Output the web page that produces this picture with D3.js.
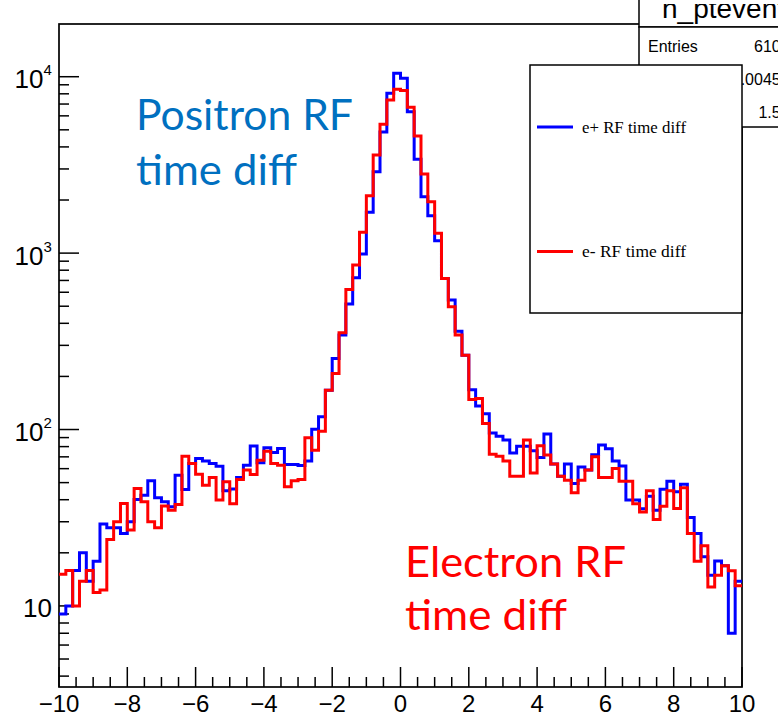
<!DOCTYPE html>
<html><head><meta charset="utf-8">
<script src="https://cdn.jsdelivr.net/npm/d3@7"></script>
<style>body{margin:0;background:#fff}svg{display:block}</style>
</head><body>
<svg id="c" width="778" height="720"></svg>
<script>
// ---- data ----
const xMin = -10, xMax = 10, nBins = 100;
const positronCounts = [
  9.0, 10.0, 15.9, 20.0, 13.8, 17.9, 29.1, 27.7, 27.7, 25.7,
  30.0, 40.1, 42.4, 51.2, 41.0, 38.9, 36.5, 55.1, 45.7, 64.2,
  68.5, 66.2, 64.2, 62.0, 45.0, 46.0, 53.5, 62.8, 80.7, 64.7,
  78.7, 74.1, 78.1, 63.3, 63.3, 62.6, 66.2, 100.5, 118, 167,
  253, 343, 514, 725, 988, 1704, 2895, 4860, 8050, 10470,
  9800, 6340, 3405, 2088, 1629, 1175, 719, 542, 361, 264,
  168, 136, 123, 95.7, 91.6, 87.1, 73.7, 80.4, 80.4, 75.7,
  69.3, 94.2, 63.7, 54.4, 63.7, 49.4, 61.4, 58.9, 72.0, 81.7,
  77.7, 66.4, 62.2, 39.8, 39.8, 35.6, 41.9, 34.9, 45.9, 50.9,
  44.4, 48.9, 31.7, 25.7, 19.0, 14.9, 18.0, 16.9, 7.0, 13.8
];
const electronCounts = [
  15.1, 15.9, 10.0, 13.8, 15.9, 11.9, 12.3, 23.8, 30.0, 38.1,
  26.9, 46.3, 38.9, 30.0, 27.7, 36.8, 34.9, 37.6, 70.6, 64.2,
  55.8, 48.3, 53.4, 39.8, 50.5, 38.0, 52.1, 58.9, 55.6, 67.0,
  75.4, 64.2, 62.8, 47.3, 51.2, 52.1, 89.8, 76.3, 97.9, 167,
  208, 354, 622, 855, 1312, 2117, 3600, 5380, 7385, 8490,
  8340, 6710, 4615, 2806, 1955, 1294, 719, 497, 343, 264,
  148, 150, 108, 72.4, 70.6, 66.2, 54.4, 54.4, 87.1, 56.7,
  80.9, 71.6, 63.7, 54.4, 51.6, 43.8, 51.6, 58.9, 70.0, 53.5,
  53.5, 60.1, 50.9, 50.9, 38.0, 34.1, 44.9, 30.9, 36.7, 44.9,
  35.7, 46.7, 25.7, 17.9, 21.9, 12.8, 14.9, 16.9, 15.8, 13.0
];
const xMajorTicks = [-10, -8, -6, -4, -2, 0, 2, 4, 6, 8, 10];
const xTickLabels = ["\u221210", "\u22128", "\u22126", "\u22124", "\u22122", "0", "2", "4", "6", "8", "10"];
const yMajorTicks = [10, 100, 1000, 10000];
const yTickExponents = ["", "2", "3", "4"];
const legendLabels = ["e+ RF time diff", "e- RF time diff"];
const statsLabels = ["Entries", "Mean", "Std Dev"];
const statsValues = ["61046", "-0.004532", "1.523"];
const histTitle = "h_ptevent";

// ---- layout ----
const svg = d3.select("#c");
const L = 59, R = 742, T = 24, B = 687;
const x = d3.scaleLinear().domain([xMin, xMax]).range([L, R]);
const y = d3.scaleLog().domain([3.47, 19900]).range([B, T]);
const binW = (xMax - xMin) / nBins;

// frame
svg.append("rect").attr("x", L).attr("y", T).attr("width", R - L).attr("height", B - T)
  .attr("fill", "none").attr("stroke", "#000").attr("stroke-width", 1.7);

// x ticks
const xMinor = d3.range(xMin, xMax + 0.001, 0.5).filter(v => Math.abs(v % 2) > 1e-6);
svg.append("g").selectAll("line").data(xMinor).join("line")
  .attr("x1", d => x(d)).attr("x2", d => x(d)).attr("y1", B).attr("y2", B - 10)
  .attr("stroke", "#000").attr("stroke-width", 1.5);
svg.append("g").selectAll("line").data(xMajorTicks).join("line")
  .attr("x1", d => x(d)).attr("x2", d => x(d)).attr("y1", B).attr("y2", B - 20)
  .attr("stroke", "#000").attr("stroke-width", 1.5);
svg.append("g").selectAll("text").data(xMajorTicks).join("text")
  .attr("x", d => x(d)).attr("y", 712).attr("text-anchor", "middle")
  .attr("font-family", "Liberation Sans, Arial, sans-serif").attr("font-size", 24)
  .text((d, i) => xTickLabels[i]);

// y ticks
const yMinor = [];
[1, 10, 100, 1000, 10000].forEach(p => { for (let k = 2; k <= 9; k++) { const v = k * p; if (v >= y.domain()[0] && v <= y.domain()[1]) yMinor.push(v); } });
svg.append("g").selectAll("line").data(yMinor).join("line")
  .attr("x1", L).attr("x2", L + 10).attr("y1", d => y(d)).attr("y2", d => y(d))
  .attr("stroke", "#000").attr("stroke-width", 1.5);
svg.append("g").selectAll("line").data(yMajorTicks).join("line")
  .attr("x1", L).attr("x2", L + 20).attr("y1", d => y(d)).attr("y2", d => y(d))
  .attr("stroke", "#000").attr("stroke-width", 1.5);
const yl = svg.append("g").attr("font-family", "Liberation Sans, Arial, sans-serif");
yMajorTicks.forEach((v, i) => {
  const e = yTickExponents[i];
  if (e === "") {
    yl.append("text").attr("x", 52).attr("y", y(v) + 11.5).attr("text-anchor", "end")
      .attr("font-size", 26).text("10");
  } else {
    yl.append("text").attr("x", 43.5).attr("y", y(v) + 11.5).attr("text-anchor", "end")
      .attr("font-size", 26).text("10");
    yl.append("text").attr("x", 43.5).attr("y", y(v) - 1.5).attr("text-anchor", "start")
      .attr("font-size", 15).text(e);
  }
});

// histograms
function stepPts(arr) {
  const pts = arr.map((v, i) => [xMin + i * binW, v]);
  pts.push([xMax, arr[arr.length - 1]]);
  return pts;
}
const line = d3.line().x(d => x(d[0])).y(d => y(d[1])).curve(d3.curveStepAfter);
svg.append("path").attr("d", line(stepPts(positronCounts)))
  .attr("fill", "none").attr("stroke", "#0000ff").attr("stroke-width", 3);
svg.append("path").attr("d", line(stepPts(electronCounts)))
  .attr("fill", "none").attr("stroke", "#ff0000").attr("stroke-width", 3);

// annotations
const ann = svg.append("g").attr("font-family", "Lato, 'Open Sans', sans-serif").attr("font-size", 42);
ann.append("text").attr("x", 136).attr("y", 130).attr("fill", "#0070c0")
  .attr("textLength", 217).attr("lengthAdjust", "spacingAndGlyphs").text("Positron RF");
ann.append("text").attr("x", 136).attr("y", 185).attr("fill", "#0070c0")
  .attr("textLength", 161).attr("lengthAdjust", "spacingAndGlyphs").text("time diff");
ann.append("text").attr("x", 405).attr("y", 577).attr("fill", "#ff0000")
  .attr("textLength", 221).attr("lengthAdjust", "spacingAndGlyphs").text("Electron RF");
ann.append("text").attr("x", 405).attr("y", 630).attr("fill", "#ff0000")
  .attr("textLength", 162).attr("lengthAdjust", "spacingAndGlyphs").text("time diff");

// title box + stats box
svg.append("defs").append("clipPath").attr("id", "titleClip")
  .append("rect").attr("x", 640).attr("y", 4).attr("width", 200).attr("height", 22);
svg.append("rect").attr("x", 639).attr("y", -5).attr("width", 200).attr("height", 32)
  .attr("fill", "#fff").attr("stroke", "#000").attr("stroke-width", 1.5);
svg.append("text").attr("x", 662).attr("y", 18).attr("clip-path", "url(#titleClip)")
  .attr("font-family", "Liberation Sans, Arial, sans-serif")
  .attr("font-size", 28).text(histTitle);
svg.append("rect").attr("x", 639).attr("y", 27).attr("width", 200).attr("height", 100)
  .attr("fill", "#fff").attr("stroke", "#000").attr("stroke-width", 1.5);
const st = svg.append("g").attr("font-family", "Liberation Sans, Arial, sans-serif").attr("font-size", 16);
const rowY = [51.5, 85, 117.5];
const legendTop = 65;
statsLabels.forEach((s, i) => {
  // row labels below the legend's top edge are fully covered by the legend, as in the reference
  if (rowY[i] < legendTop) st.append("text").attr("x", 648).attr("y", rowY[i]).text(s);
  st.append("text").attr("x", 798.5).attr("y", rowY[i]).attr("text-anchor", "end").text(statsValues[i]);
});

// legend
svg.append("rect").attr("x", 530).attr("y", legendTop).attr("width", 212).attr("height", 248)
  .attr("fill", "#fff").attr("stroke", "#000").attr("stroke-width", 1.5);
const legColors = ["#0000ff", "#ff0000"];
const legY = [127, 251.5];
legendLabels.forEach((s, i) => {
  svg.append("line").attr("x1", 537).attr("x2", 573).attr("y1", legY[i]).attr("y2", legY[i])
    .attr("stroke", legColors[i]).attr("stroke-width", 3);
  svg.append("text").attr("x", 582).attr("y", legY[i] + 5.5)
    .attr("font-family", "Liberation Serif, 'Times New Roman', serif").attr("font-size", 17)
    .attr("textLength", 104).attr("lengthAdjust", "spacingAndGlyphs").text(s);
});
</script>
</body></html>
